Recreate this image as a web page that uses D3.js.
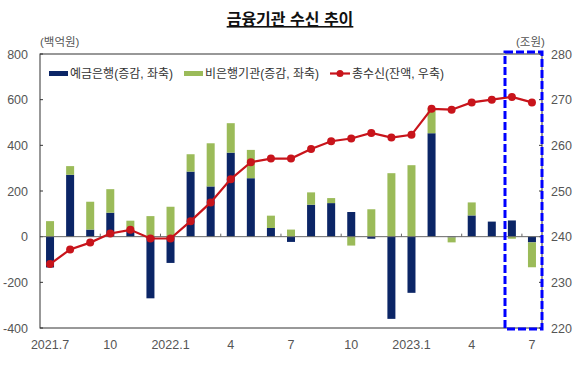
<!DOCTYPE html>
<html>
<head>
<meta charset="utf-8">
<title>금융기관 수신 추이</title>
<script src="https://d3js.org/d3.v7.min.js"></script>
<style>
  body { margin: 0; background: #fff; }
  svg { display: block; }
  text { font-family: "Liberation Sans", "Noto Sans CJK KR", sans-serif; }
</style>
</head>
<body>
<svg id="main" width="580" height="366"></svg>
<script>
// months 2021.7 ~ 2023.7
const months = ['2021.7','8','9','10','11','12','2022.1','2','3','4','5','6','7','8','9','10','11','12','2023.1','2','3','4','5','6','7'];
const tickLabels = {0:'2021.7', 3:'10', 6:'2022.1', 9:'4', 12:'7', 15:'10', 18:'2023.1', 21:'4', 24:'7'};

// 예금은행 증감 (백억원)
const banks    = [-135, 271, 31, 105, 30, -270, -115, 285, 220, 368, 256, 38, -23, 140, 147, 108, -9, -360, -246, 453, -3, 93, 66, 71, -25];
// 비은행기관 증감 (백억원)
const nonBanks = [68, 38, 122, 103, 40, 90, 131, 76, 189, 129, 124, 54, 31, 54, 22, -39, 120, 278, 313, 109, -22, 57, 0, -9, -109];
// 총수신 잔액 (조원)
const total    = [234.0, 237.2, 238.7, 240.7, 241.5, 239.6, 239.6, 243.4, 247.5, 252.6, 256.3, 257.1, 257.1, 259.2, 260.9, 261.5, 262.7, 261.7, 262.3, 268.0, 267.8, 269.4, 270.0, 270.6, 269.4];

const leftTicks = [800, 600, 400, 200, 0, -200, -400];
const rightTicks = [280, 270, 260, 250, 240, 230, 220];

const navy = '#0b2566', green = '#9bbb59', red = '#c8141b';

const svg = d3.select('svg#main');
const m = {left: 40, right: 542, top: 54, bottom: 328};

const x = d3.scaleBand().domain(d3.range(months.length)).range([m.left, m.right]);
const yL = d3.scaleLinear().domain([-400, 800]).range([m.bottom, m.top]);
const yR = d3.scaleLinear().domain([220, 280]).range([m.bottom, m.top]);

// title
svg.append('text')
    .attr('x', 290).attr('y', 25)
    .attr('text-anchor', 'middle')
    .attr('font-size', 16).attr('font-weight', 'bold')
    .attr('text-decoration', 'underline')
    .attr('fill', '#111')
    .text('금융기관 수신 추이');

// units
svg.append('text').attr('x', 40).attr('y', 46).attr('font-size', 11.5).attr('fill', '#555').text('(백억원)');
svg.append('text').attr('x', 516).attr('y', 46).attr('font-size', 11.5).attr('fill', '#555').text('(조원)');

// left axis labels
svg.append('g').selectAll('text')
    .data(leftTicks)
    .join('text')
    .attr('x', 28).attr('y', d => yL(d) + 4.5)
    .attr('text-anchor', 'end')
    .attr('font-size', 12.5).attr('fill', '#555')
    .text(d => d);

// right axis labels
svg.append('g').selectAll('text')
    .data(rightTicks)
    .join('text')
    .attr('x', 551).attr('y', d => yR(d) + 4.5)
    .attr('font-size', 12.5).attr('fill', '#555')
    .text(d => d);

// inward ticks
svg.append('g').selectAll('line')
    .data(leftTicks)
    .join('line')
    .attr('x1', m.left).attr('x2', m.left + 3)
    .attr('y1', d => yL(d)).attr('y2', d => yL(d))
    .attr('stroke', '#333');
svg.append('g').selectAll('line')
    .data(rightTicks)
    .join('line')
    .attr('x1', m.right - 3).attr('x2', m.right)
    .attr('y1', d => yR(d)).attr('y2', d => yR(d))
    .attr('stroke', '#333');

// bars: diverging stack
const rows = months.map((mo, i) => ({i: i, banks: banks[i], nonBanks: nonBanks[i]}));
const stack = d3.stack().keys(['banks', 'nonBanks']).offset(d3.stackOffsetDiverging);
const series = stack(rows);
const colors = {banks: navy, nonBanks: green};
const bw = 8;

svg.append('g').selectAll('g')
    .data(series)
    .join('g')
    .attr('fill', d => colors[d.key])
    .selectAll('rect')
    .data(d => d)
    .join('rect')
    .attr('x', d => x(d.data.i) + x.bandwidth() / 2 - bw / 2)
    .attr('width', bw)
    .attr('y', d => yL(Math.max(d[0], d[1])))
    .attr('height', d => Math.abs(yL(d[0]) - yL(d[1])));

// zero line
svg.append('line')
    .attr('x1', m.left).attr('x2', m.right)
    .attr('y1', yL(0)).attr('y2', yL(0))
    .attr('stroke', '#666').attr('stroke-width', 1);

// x ticks every 3 months (on boundaries)
svg.append('g').selectAll('line')
    .data(d3.range(3, months.length, 3))
    .join('line')
    .attr('x1', d => x(d)).attr('x2', d => x(d))
    .attr('y1', yL(0)).attr('y2', yL(0) - 3)
    .attr('stroke', '#666');

// x labels
svg.append('g').selectAll('text')
    .data(Object.keys(tickLabels).map(Number))
    .join('text')
    .attr('x', d => x(d) + x.bandwidth() / 2)
    .attr('y', 349)
    .attr('text-anchor', 'middle')
    .attr('font-size', 12.5).attr('fill', '#555')
    .text(d => tickLabels[d]);

// plot frame
svg.append('rect')
    .attr('x', m.left).attr('y', m.top)
    .attr('width', m.right - m.left).attr('height', m.bottom - m.top)
    .attr('fill', 'none').attr('stroke', '#333').attr('stroke-width', 1);

// total line
const line = d3.line()
    .x((d, i) => x(i) + x.bandwidth() / 2)
    .y(d => yR(d));
svg.append('path')
    .datum(total)
    .attr('d', line)
    .attr('fill', 'none').attr('stroke', red).attr('stroke-width', 2.2);
svg.append('g').selectAll('circle')
    .data(total)
    .join('circle')
    .attr('cx', (d, i) => x(i) + x.bandwidth() / 2)
    .attr('cy', d => yR(d))
    .attr('r', 4)
    .attr('fill', red);

// legend
const lg = svg.append('g').attr('font-size', 12).attr('fill', '#333');
lg.append('rect').attr('x', 49).attr('y', 71).attr('width', 19).attr('height', 5).attr('fill', navy);
lg.append('text').attr('x', 70).attr('y', 78).attr('fill', '#333').text('예금은행(증감, 좌축)');
lg.append('rect').attr('x', 184).attr('y', 71).attr('width', 19).attr('height', 5).attr('fill', green);
lg.append('text').attr('x', 205).attr('y', 78).attr('fill', '#333').text('비은행기관(증감, 좌축)');
lg.append('line').attr('x1', 330).attr('x2', 350).attr('y1', 73.5).attr('y2', 73.5).attr('stroke', red).attr('stroke-width', 2.2);
lg.append('circle').attr('cx', 340).attr('cy', 73.5).attr('r', 3.5).attr('fill', red);
lg.append('text').attr('x', 352).attr('y', 78).attr('fill', '#333').text('총수신(잔액, 우축)');

// highlight box
svg.append('rect')
    .attr('x', 505).attr('y', 52)
    .attr('width', 37).attr('height', 277)
    .attr('fill', 'none').attr('stroke', '#0000ff')
    .attr('stroke-width', 3).attr('stroke-dasharray', '8,3');
</script>
</body>
</html>
